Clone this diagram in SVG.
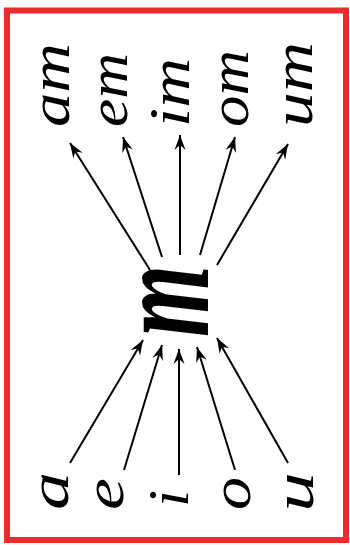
<svg xmlns="http://www.w3.org/2000/svg" width="350" height="545" viewBox="0 0 350 545">
<style>
.t{font-family:"Liberation Serif","DejaVu Serif",serif;font-style:italic;font-size:56px;fill:#000}
.big{font-size:140px;font-weight:bold}
.c line{stroke:#000;stroke-width:2;marker-end:url(#ah)}
</style>
<defs>
<marker id="ah" viewBox="-16 -7 18 14" markerWidth="18" markerHeight="14" refX="0" refY="0" orient="auto" markerUnits="userSpaceOnUse">
<path d="M0,0 L-15,-5.5 L-10,0 L-15,5.5 Z" fill="#000"/>
</marker>
</defs>
<rect x="0" y="0" width="350" height="545" fill="#fff"/>
<rect x="7" y="10.5" width="339" height="529.5" fill="none" stroke="#ee2a2a" stroke-width="6"/>
<g class="c" id="connectors">
<line x1="150" y1="270" x2="70" y2="143"/>
<line x1="162" y1="257" x2="123" y2="137"/>
<line x1="180" y1="255" x2="180" y2="135"/>
<line x1="200" y1="255" x2="235" y2="137"/>
<line x1="217" y1="265" x2="288" y2="144"/>
<line x1="70" y1="463" x2="143" y2="340"/>
<line x1="124" y1="470" x2="162" y2="345"/>
<line x1="179" y1="475" x2="179" y2="349"/>
<line x1="235" y1="470" x2="197" y2="347"/>
<line x1="288" y1="463" x2="217" y2="338"/>
</g>
<g id="n-am"><text class="t" transform="translate(69,127) rotate(-90)" textLength="84" lengthAdjust="spacingAndGlyphs">am</text></g>
<g id="n-em"><text class="t" transform="translate(127,127) rotate(-90)" textLength="74" lengthAdjust="spacingAndGlyphs">em</text></g>
<g id="n-im"><text class="t" transform="translate(189,127) rotate(-90)" textLength="69" lengthAdjust="spacingAndGlyphs">im</text></g>
<g id="n-om"><text class="t" transform="translate(248,127) rotate(-90)" textLength="77" lengthAdjust="spacingAndGlyphs">om</text></g>
<g id="n-um"><text class="t" transform="translate(312,127) rotate(-90)" textLength="85" lengthAdjust="spacingAndGlyphs">um</text></g>
<g id="n-m"><text class="t big" transform="translate(208,337) rotate(-90)" textLength="72" lengthAdjust="spacingAndGlyphs">m</text></g>
<g id="n-a"><text class="t" transform="translate(68,510) rotate(-90)" textLength="38" lengthAdjust="spacingAndGlyphs">a</text></g>
<g id="n-e"><text class="t" transform="translate(123,510) rotate(-90)" textLength="32" lengthAdjust="spacingAndGlyphs">e</text></g>
<g id="n-i"><text class="t" transform="translate(188,507) rotate(-90)" textLength="17" lengthAdjust="spacingAndGlyphs">i</text></g>
<g id="n-o"><text class="t" transform="translate(250,510) rotate(-90)" textLength="33" lengthAdjust="spacingAndGlyphs">o</text></g>
<g id="n-u"><text class="t" transform="translate(313,512) rotate(-90)" textLength="40" lengthAdjust="spacingAndGlyphs">u</text></g>
</svg>
